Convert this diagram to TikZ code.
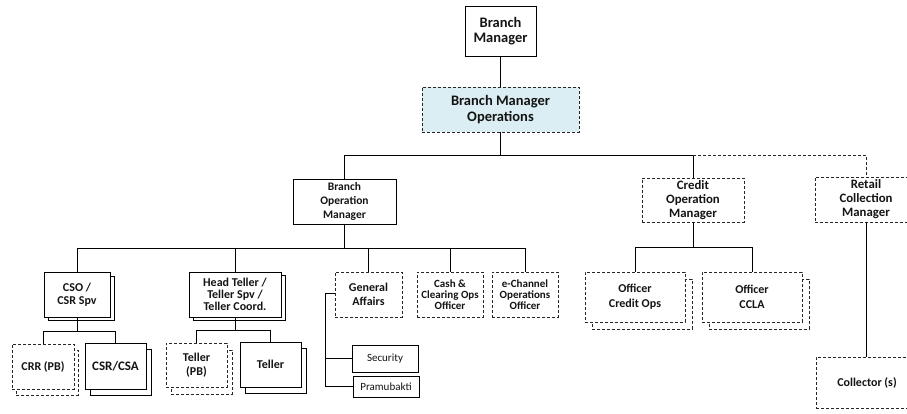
\documentclass[tikz,border=0pt]{standalone}
\usepackage{fontspec}
\setmainfont{Carlito}
\definecolor{textc}{HTML}{141414}
\definecolor{bmofill}{HTML}{DBEEF3}
\tikzset{
 base/.style={rectangle, inner sep=1pt, align=center, text=textc, line width=0.8pt},
 solidbox/.style={base, draw=black, fill=white},
 dashbox/.style={base, draw=black!85, fill=white, dash pattern=on 3pt off 2pt},
 conn/.style={line width=0.8pt, draw=black},
 dconn/.style={conn, draw=black!85, dash pattern=on 3pt off 2pt},
 fbig/.style={font=\bfseries\fontsize{14.5}{15.5}\selectfont},
 fmid/.style={font=\bfseries\fontsize{12.8}{14}\selectfont},
 fbom/.style={font=\bfseries\fontsize{11.5}{14}\selectfont},
 fsm/.style={font=\bfseries\fontsize{12}{13.5}\selectfont},
 fcsr/.style={font=\bfseries\fontsize{13}{14}\selectfont},
 fht/.style={font=\bfseries\fontsize{12}{12}\selectfont},
 fxs/.style={font=\bfseries\fontsize{11}{11.2}\selectfont},
 foff/.style={font=\bfseries\fontsize{12}{15}\selectfont},
 freg/.style={font=\fontsize{11}{12}\selectfont},
}
\begin{document}
\begin{tikzpicture}[x=1pt,y=-1pt]
\useasboundingbox (0,0) rectangle (907,414);
\clip (0,0) rectangle (907,414);
\fill[white] (0,0) rectangle (907,414);

% top
\node[solidbox, fbig, minimum width=71, minimum height=50] (bm) at (500.5,31) {Branch\\Manager};
\node[dashbox, fbig, fill=bmofill, minimum width=157, minimum height=45] (bmo) at (500.5,109.5) {Branch Manager\\Operations};

% managers
\node[solidbox, fbom, minimum width=103, minimum height=45] (bom) at (344.5,201.5) {Branch\\Operation\\Manager};
\node[dashbox, fmid, minimum width=102, minimum height=44] (com) at (693,200) {Credit\\Operation\\Manager};
\node[dashbox, fmid, minimum width=102, minimum height=45] (rcm) at (866,199.5) {Retail\\Collection\\Manager};

% branch ops level
\node[solidbox, minimum width=66, minimum height=44] (csosh) at (81,298) {};
\node[solidbox, fsm, minimum width=66, minimum height=45] (cso) at (77,294.5) {CSO /\\CSR Spv};
\node[solidbox, minimum width=92, minimum height=45] (htsh) at (239,298) {};
\node[solidbox, fht, minimum width=92, minimum height=45] (ht) at (235,294.5) {Head Teller /\\Teller Spv /\\Teller Coord.};
\node[dashbox, fsm, minimum width=67, minimum height=45] (ga) at (368.5,294.5) {General\\Affairs};
\node[dashbox, fxs, minimum width=66, minimum height=45] (cash) at (450,294.5) {Cash \&\\Clearing Ops\\Officer};
\node[dashbox, fxs, minimum width=66, minimum height=45] (ech) at (525,294.5) {e-Channel\\Operations\\Officer};

% bottom-left
\node[dashbox, minimum width=62, minimum height=45] (crrsh) at (47,372.5) {};
\node[dashbox, fsm, minimum width=62, minimum height=45] (crr) at (43,366.5) {CRR (PB)};
\node[solidbox, minimum width=61, minimum height=46] (csrsh) at (120.5,372) {};
\node[solidbox, fcsr, minimum width=61, minimum height=46] (csr) at (115.5,366) {CSR/CSA};
\node[dashbox, minimum width=61, minimum height=44] (tpbsh) at (201.5,372) {};
\node[dashbox, fsm, minimum width=61, minimum height=44] (tpb) at (196.5,365) {Teller\\(PB)};
\node[solidbox, minimum width=61, minimum height=45] (telsh) at (275.5,370.5) {};
\node[solidbox, fsm, minimum width=61, minimum height=45] (tel) at (270.5,364.5) {Teller};
\node[solidbox, freg, minimum width=66, minimum height=27] (sec) at (385,358.5) {Security};
\node[solidbox, freg, minimum width=66, minimum height=21] (pra) at (386,386.5) {Pramubakti};

% credit
\node[dashbox, minimum width=100, minimum height=50] (ocosh) at (642,304) {};
\node[dashbox, foff, minimum width=100, minimum height=50] (oco) at (635,297) {Officer\\Credit Ops};
\node[dashbox, minimum width=100, minimum height=50] (occsh) at (759,304) {};
\node[dashbox, foff, minimum width=100, minimum height=50] (occ) at (752,297) {Officer\\CCLA};

% retail
\node[dashbox, fsm, minimum width=102, minimum height=51] (col) at (867,382.5) {Collector (s)};

% bus coordinates
\coordinate (b1) at (500.5,155);
\coordinate (b2) at (344.5,248);
\coordinate (b3) at (693,247);
\coordinate (b4) at (77,331);
\coordinate (b5) at (235,330);
\coordinate (gx) at (325,293);

% connectors
\draw[conn] (bm.south) -- (bmo.north);
\draw[conn] (bmo.south) -- (b1);
\draw[conn] (bom.north) -- (bom.north |- b1) -- (com.north |- b1) -- (com.north);
\draw[dconn] (com.north |- b1) -- (rcm.north |- b1) -- (rcm.north);

\draw[conn] (bom.south) -- (b2);
\draw[conn] (cso.north) -- (cso.north |- b2) -- (ech.north |- b2) -- (ech.north);
\draw[conn] (ht.north |- b2) -- (ht.north);
\draw[conn] (ga.north |- b2) -- (ga.north);
\draw[conn] (cash.north |- b2) -- (cash.north);

\draw[conn] (com.south) -- (b3);
\draw[conn] (oco.north) -- (oco.north |- b3) -- (occ.north |- b3) -- (occ.north);

\draw[conn] (rcm.south) -- (rcm.south |- col.north);

\draw[conn] (cso.south) -- (b4);
\draw[conn] (crr.north) -- (crr.north |- b4) -- (csr.north |- b4) -- (csr.north);

\draw[conn] (ht.south) -- (b5);
\draw[conn] (tpb.north) -- (tpb.north |- b5) -- (tel.north |- b5) -- (tel.north);

\draw[conn] (ga.west |- gx) -- (gx) -- (gx |- pra.west) -- (pra.west);
\draw[conn] (gx |- sec.west) -- (sec.west);
\end{tikzpicture}
\end{document}
